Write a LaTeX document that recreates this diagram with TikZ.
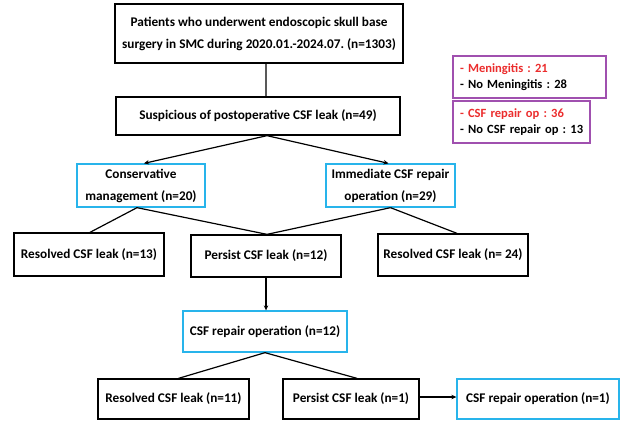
\documentclass[tikz,border=0pt]{standalone}
\usepackage{fontspec}
\setmainfont{Carlito}
\frenchspacing
\usetikzlibrary{arrows.meta}
\definecolor{boxblue}{RGB}{40,180,235}
\definecolor{boxpurple}{RGB}{160,80,175}
\definecolor{txtred}{RGB}{235,45,45}
\tikzset{
  base/.style={draw, line width=1.3bp, inner sep=0pt, align=center, font=\bfseries\fontsize{13.3}{22}\selectfont},
  blackbox/.style={base, draw=black},
  bluebox/.style={base, draw=boxblue},
  notebox/.style={draw=boxpurple, line width=1.3bp, inner xsep=7bp, inner ysep=0pt, align=left, font=\bfseries\fontsize{12.6}{16}\selectfont},
  conn/.style={line width=1.2bp, draw=black},
  arr/.style={conn, -{Stealth[length=5bp,width=4.5bp]}},
}
\begin{document}
\begin{tikzpicture}[x=1bp,y=-1bp]
\useasboundingbox (0,0) rectangle (622,421);
\node[blackbox, minimum width=288bp, minimum height=59bp] (top) at (259,33.5)
  {Patients who underwent endoscopic skull base\\surgery in SMC during 2020.01.-2024.07. (n=1303)};
\node[blackbox, minimum width=284bp, minimum height=38bp] (susp) at (258,116)
  {Suspicious of postoperative CSF leak (n=49)};
\node[notebox, minimum width=153bp, minimum height=42bp, text width=139bp] (men) at (529.5,77)
  {\mbox{\textcolor{txtred}{- Meningitis : 21}}\\\mbox{- No Meningitis : 28}};
\node[notebox, minimum width=137bp, minimum height=42bp, text width=123bp] (csfop) at (521.5,122)
  {\mbox{\textcolor{txtred}{- CSF repair op : 36}}\\\mbox{- No CSF repair op : 13}};
\node[bluebox, minimum width=128bp, minimum height=43bp] (cons) at (141,185.5)
  {Conservative\\management (n=20)};
\node[bluebox, minimum width=129bp, minimum height=43bp] (imm) at (390.5,185.5)
  {Immediate CSF repair\\operation (n=29)};
\node[blackbox, minimum width=150bp, minimum height=43bp] (res13) at (89,254.5)
  {Resolved CSF leak (n=13)};
\node[blackbox, minimum width=150bp, minimum height=42bp] (per12) at (266,256)
  {Persist CSF leak (n=12)};
\node[blackbox, minimum width=150bp, minimum height=42bp] (res24) at (453,255)
  {Resolved CSF leak (n= 24)};
\node[bluebox, minimum width=164bp, minimum height=41bp] (rep12) at (265,331.5)
  {CSF repair operation (n=12)};
\node[blackbox, minimum width=151bp, minimum height=40bp] (res11) at (173.5,399)
  {Resolved CSF leak (n=11)};
\node[blackbox, minimum width=136bp, minimum height=40bp] (per1) at (351,399)
  {Persist CSF leak (n=1)};
\node[bluebox, minimum width=162bp, minimum height=40bp] (rep1) at (538,399)
  {CSF repair operation (n=1)};

\draw[conn] ([xshift=7bp]top.south) -- ([xshift=8bp]susp.north);
\draw[arr] ([xshift=9bp]susp.south) -- ([xshift=3bp]cons.north);
\draw[arr] ([xshift=9bp]susp.south) -- ([xshift=-2bp]imm.north);
\draw[conn] ([xshift=-4bp]cons.south) -- ([xshift=1bp]res13.north);
\draw[conn] ([xshift=-4bp]cons.south) -- ([xshift=1bp]per12.north);
\draw[conn] (imm.south) -- ([xshift=1bp]per12.north);
\draw[conn] (imm.south) -- ([xshift=4bp]res24.north);
\draw[arr] (per12.south) -- ([xshift=1bp]rep12.north);
\draw[conn] (rep12.south) -- ([xshift=5bp]res11.north);
\draw[conn] (rep12.south) -- ([xshift=6bp]per1.north);
\draw[arr] ([yshift=2bp]per1.east) -- ([yshift=2bp]rep1.west);
\end{tikzpicture}
\end{document}
